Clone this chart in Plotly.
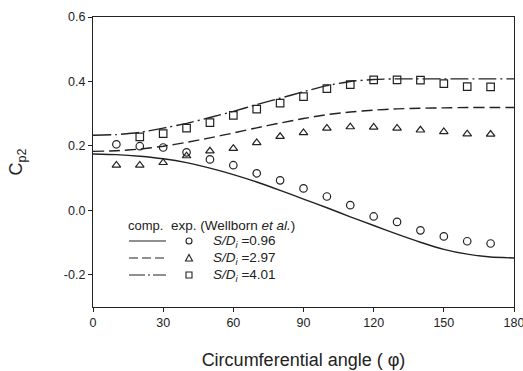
import plotly.graph_objects as go

# ---- data ----
ang_line = [0, 10, 20, 30, 40, 50, 60, 70, 80, 90, 100, 110, 120, 130, 140, 150, 160, 170, 180]
comp_096 = [0.175, 0.173, 0.168, 0.160, 0.148, 0.131, 0.111, 0.088, 0.062, 0.035, 0.008, -0.020,
            -0.047, -0.074, -0.099, -0.121, -0.136, -0.145, -0.148]
comp_297 = [0.183, 0.185, 0.190, 0.199, 0.211, 0.225, 0.240, 0.256, 0.271, 0.285, 0.297, 0.305,
            0.311, 0.315, 0.317, 0.318, 0.319, 0.319, 0.319]
comp_401 = [0.233, 0.235, 0.242, 0.255, 0.270, 0.288, 0.307, 0.328, 0.348, 0.368, 0.387, 0.400,
            0.406, 0.408, 0.408, 0.408, 0.408, 0.408, 0.408]

ang_exp = [10, 20, 30, 40, 50, 60, 70, 80, 90, 100, 110, 120, 130, 140, 150, 160, 170]
exp_096 = [0.205, 0.199, 0.195, 0.180, 0.158, 0.140, 0.115, 0.093, 0.068, 0.043, 0.016, -0.019,
           -0.036, -0.062, -0.081, -0.096, -0.103]
exp_297 = [0.140, 0.140, 0.148, 0.169, 0.184, 0.192, 0.210, 0.229, 0.241, 0.255, 0.259, 0.258,
           0.255, 0.249, 0.244, 0.237, 0.236]
ang_exp_sq = [20, 30, 40, 50, 60, 70, 80, 90, 100, 110, 120, 130, 140, 150, 160, 170]
exp_401 = [0.228, 0.238, 0.255, 0.272, 0.295, 0.314, 0.333, 0.353, 0.378, 0.390, 0.405, 0.405,
           0.404, 0.393, 0.384, 0.383]

x_ticks = [0, 30, 60, 90, 120, 150, 180]
y_ticks = [-0.2, 0.0, 0.2, 0.4, 0.6]
y_tick_text = ["-0.2", "0.0", "0.2", "0.4", "0.6"]

legend_labels = ["0.96", "2.97", "4.01"]

INK = "#222222"
FONT = "Liberation Sans, Arial, sans-serif"
DASH_A = "solid"
DASH_B = "11px,5px"
DASH_C = "18px,4px,2px,4px"

fig = go.Figure()
for ys, dash in [(comp_096, DASH_A), (comp_297, DASH_B), (comp_401, DASH_C)]:
    fig.add_trace(go.Scatter(x=ang_line, y=ys, mode="lines", line=dict(color=INK, width=1.4, dash=dash,
                                                                         shape="spline", smoothing=0.5),
                             showlegend=False, hoverinfo="skip"))

for xs, ys, sym in [(ang_exp, exp_096, "circle-open"), (ang_exp, exp_297, "triangle-up-open"),
                    (ang_exp_sq, exp_401, "square-open")]:
    fig.add_trace(go.Scatter(x=xs, y=ys, mode="markers",
                             marker=dict(symbol=sym, size=7.5, color=INK, line=dict(width=1.2, color=INK)),
                             showlegend=False))

# ---- custom legend (paper coords) ----
L, T, W, H = 93, 17, 421, 290
def px(x):
    return (x - L) / W
def py(y):
    return (T + H - y) / H

LEG_SIZE = 13.5
shapes = []
annotations = []
annotations.append(dict(x=px(165), y=py(225), xref="paper", yref="paper", xanchor="right", yanchor="middle",
                        text="comp.", showarrow=False, font=dict(size=13, color=INK, family=FONT)))
annotations.append(dict(x=px(169), y=py(225), xref="paper", yref="paper", xanchor="left", yanchor="middle",
                        text="exp. (Wellborn <i>et al.</i>)", showarrow=False,
                        font=dict(size=LEG_SIZE, color=INK, family=FONT)))
rows_y = [241, 258, 275]
for i, (ry, lab) in enumerate(zip(rows_y, legend_labels)):
    shapes.append(dict(type="line", xref="paper", yref="paper", x0=px(129), x1=px(166), y0=py(ry), y1=py(ry),
                       line=dict(color=INK, width=1.2, dash=[DASH_A, "9px,4px", "16px,3px,2px,3px"][i])))
    cx, cy = px(189), py(ry)
    if i == 0:
        shapes.append(dict(type="circle", xref="paper", yref="paper", xsizemode="pixel", ysizemode="pixel",
                           xanchor=cx, yanchor=cy, x0=-3, x1=3, y0=-3, y1=3,
                           line=dict(color=INK, width=1.1)))
    elif i == 1:
        shapes.append(dict(type="path", xref="paper", yref="paper", xsizemode="pixel", ysizemode="pixel",
                           xanchor=cx, yanchor=cy, path="M -3.5 -3 L 3.5 -3 L 0 3.5 Z",
                           line=dict(color=INK, width=1.1)))
    else:
        shapes.append(dict(type="rect", xref="paper", yref="paper", xsizemode="pixel", ysizemode="pixel",
                           xanchor=cx, yanchor=cy, x0=-3, x1=3, y0=-3, y1=3,
                           line=dict(color=INK, width=1.1)))
    annotations.append(dict(x=px(211), y=py(ry), xref="paper", yref="paper", xanchor="left", yanchor="middle",
                            text="<i>S/D</i><sub><i>i</i></sub> =" + lab, showarrow=False,
                            font=dict(size=LEG_SIZE, color=INK, family=FONT)))

fig.update_layout(
    width=523, height=371,
    margin=dict(l=93, r=9, t=17, b=64),
    paper_bgcolor="white", plot_bgcolor="white",
    font=dict(family=FONT, size=12, color=INK),
    shapes=shapes, annotations=annotations,
    showlegend=False,
)
fig.update_xaxes(range=[0, 180], tickvals=x_ticks, ticks="outside", ticklen=4, tickcolor=INK,
                 ticklabeloverflow="allow", automargin=False,
                 showline=True, linecolor=INK, linewidth=1.2, mirror=True, showgrid=False, zeroline=False,
                 tickfont=dict(size=12.5, color=INK),
                 title=dict(text="Circumferential angle ( φ)", font=dict(size=18, color=INK), standoff=24))
fig.update_yaxes(range=[-0.3, 0.6], tickvals=y_ticks, ticktext=y_tick_text, ticks="outside", ticklen=4,
                 tickcolor=INK, showline=True, linecolor=INK, linewidth=1.2, mirror=True, showgrid=False,
                 zeroline=False, tickfont=dict(size=12.5, color=INK), automargin=False,
                 title=dict(text="C<sub>p2</sub>", font=dict(size=18, color=INK), standoff=36))

fig.write_html("out.html")
